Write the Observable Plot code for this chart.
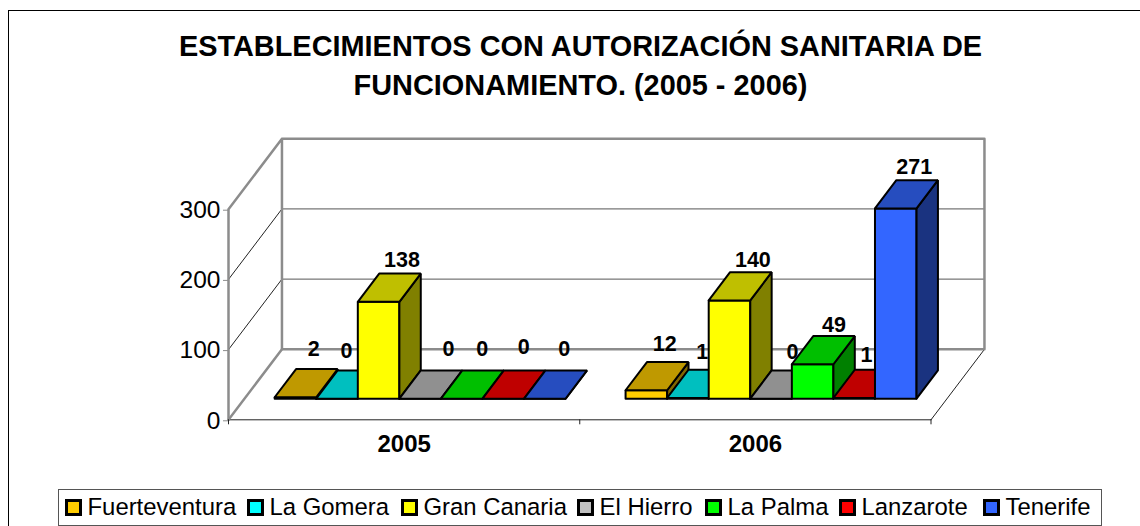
<!DOCTYPE html>
<html><head><meta charset="utf-8">
<script src="https://cdn.jsdelivr.net/npm/d3@7"></script>
<script src="https://cdn.jsdelivr.net/npm/@observablehq/plot@0.6"></script>
<style>
html,body{margin:0;padding:0;background:#fff;overflow:hidden}
#wrap{position:relative;width:1140px;height:526px;font-family:"Liberation Sans",Arial,sans-serif;color:#000;overflow:hidden}
#frame{position:absolute;left:8px;top:10px;width:1200px;height:530px;border:1.5px solid #000;box-sizing:border-box}
#title{position:absolute;left:0;width:1161px;top:26.5px;text-align:center;font-weight:bold;font-size:28.9px;line-height:39px}
#chart{position:absolute;left:0;top:0}
#legend{position:absolute;left:57.5px;top:489px;width:1044px;height:36.5px;box-sizing:border-box;border:1.5px solid #555;background:#fff;font-size:23.9px;line-height:33px}
.it{position:absolute;top:0;white-space:nowrap}
.sw{position:absolute;top:8.8px;left:-23px;width:17px;height:17px;box-sizing:border-box;border:3px solid #000}
</style></head><body>
<div id="wrap"><div id="frame"></div><div id="chart"></div>
<div id="title">ESTABLECIMIENTOS CON AUTORIZACIÓN SANITARIA DE<br>FUNCIONAMIENTO. (2005 - 2006)</div>
<div id="legend"></div></div>
<script>
const years = ["2005","2006"];
const islands = ["Fuerteventura","La Gomera","Gran Canaria","El Hierro","La Palma","Lanzarote","Tenerife"];
const colors = ["#FFCC00","#00FFFF","#FFFF00","#C0C0C0","#00FF00","#FF0000","#3366FF"];
const values2005 = [2,0,138,0,0,0,0];
const values2006 = [12,1,140,0,49,1,271];
const yTicks = [0,100,200,300];
// labels were moved by hand in the original; small pixel nudges from the bar-top centre
const nudgeX = [[-3,-12,2,7,-1,-1,-2],[-3,-7,2,0,0,-9,-3]];
const nudgeY = [[20,19,13,21,21,23,21],[18,18,12,18,11,15,13]];

const shade = (c,k)=>{const r=d3.rgb(c);return d3.rgb(r.r*k,r.g*k,r.b*k).formatHex();};
const DX=0.1522, DY=100.4, Z0=0.3, Z1=0.7;
const BW=1/8.45, GAP=(1-7*BW)/2;
const P=(x,v,z)=>({x:x+z*DX,y:v+z*DY});
const polys=[], labels=[];
let id=0;
function poly(pts,fill){const k=id++;[...pts,pts[0]].forEach(p=>polys.push({...p,k,fill}));}
[values2005,values2006].forEach((vals,g)=>vals.forEach((v,i)=>{
  const a=g+GAP+i*BW-0.001*g,b=a+BW,c=colors[i];
  poly([P(a,0,Z0),P(b,0,Z0),P(b,v,Z0),P(a,v,Z0)],c);
  poly([P(b,0,Z0),P(b,0,Z1),P(b,v,Z1),P(b,v,Z0)],shade(c,.5));
  poly([P(a,v,Z0),P(b,v,Z0),P(b,v,Z1),P(a,v,Z1)],shade(c,.75));
  const top=P((a+b)/2,v,Z1);
  labels.push({x:top.x+nudgeX[g][i]/351.5,y:top.y+nudgeY[g][i]/0.702,t:String(v)});
}));
const seg=(arr)=>arr.flatMap((pts,k)=>pts.map(p=>({...p,k})));
const wallLines=seg([
  [P(0,0,0),P(0,300,0),P(0,300,1),P(2,300,1),P(2,0,1),P(0,0,1),P(0,300,1)],
  [P(0,0,0),P(0,0,1)]
]);
const sideGrid=seg([[P(0,100,0),P(0,100,1)],[P(0,200,0),P(0,200,1)],[P(2,0,0),P(2,0,1)],[P(0,0,0),P(2,0,0)]]);
const backGrid=seg([[P(0,100,1),P(2,100,1)],[P(0,200,1),P(2,200,1)],[P(0,300,1),P(2,300,1)]]);

const plot=Plot.plot({
  width:1140,height:526,marginLeft:228,marginRight:209.5,marginTop:208.7,marginBottom:106.7,
  x:{domain:[0,2],axis:null},y:{domain:[0,300],axis:null},color:{type:"identity"},
  style:{background:"transparent",fontFamily:'"Liberation Sans",Arial,sans-serif',color:"#000"},
  marks:[
    Plot.line(backGrid,{x:"x",y:"y",z:"k",stroke:"#555",strokeWidth:1}),
    Plot.line(sideGrid,{x:"x",y:"y",z:"k",stroke:"#222",strokeWidth:1}),
    Plot.line(wallLines,{x:"x",y:"y",z:"k",stroke:"#8c8c8c",strokeWidth:2.5}),
    Plot.axisY({ticks:yTicks,anchor:"left",tickSize:5,tickPadding:3,fontSize:24.5,dy:1,stroke:"#8c8c8c",label:null}),
    Plot.axisX({ticks:[0,1,2],tickSize:5,tickFormat:()=>"",stroke:"#222",label:null}),
    Plot.axisX({ticks:[.5,1.5],tickSize:0,tickPadding:15,tickFormat:d=>years[Math.floor(d)],fontSize:24,fontWeight:"bold",label:null}),
    Plot.line(polys,{x:"x",y:"y",z:"k",fill:"fill",stroke:"#000",strokeWidth:2,strokeLinejoin:"miter"}),
    Plot.text(labels,{x:"x",y:"y",text:"t",fontSize:21.5,fontWeight:"bold",fill:"#000"})
  ]
});
document.getElementById("chart").appendChild(plot);
const xs=[29,211,365,541,669,803,947];
const lg=document.getElementById("legend");
islands.forEach((n,i)=>{
  const d=document.createElement("div");d.className="it";d.style.left=xs[i]+"px";d.textContent=n;
  const s=document.createElement("span");s.className="sw";s.style.background=colors[i];d.appendChild(s);
  lg.appendChild(d);
});
</script></body></html>
